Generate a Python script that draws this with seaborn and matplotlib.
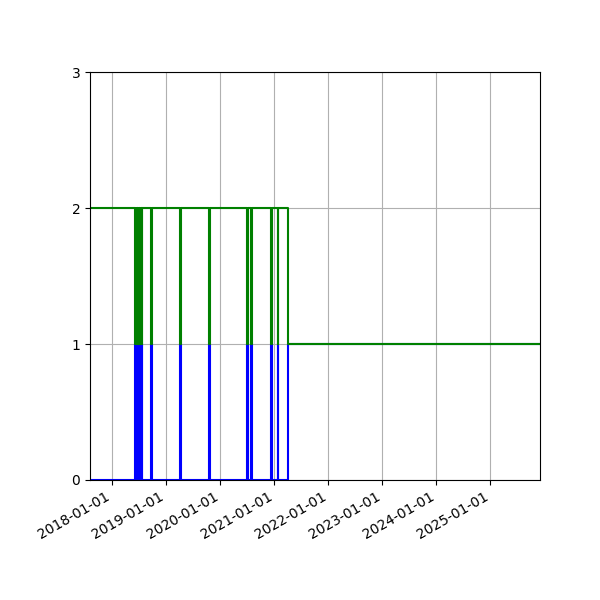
import matplotlib
matplotlib.use("Agg")
import matplotlib.pyplot as plt
import matplotlib.dates as mdates
import seaborn as sns
import pandas as pd

# change points of the two step series
change_dates = [
    "2017-08-03",
    "2018-06-02", "2018-06-08", "2018-06-13", "2018-06-20", "2018-06-26",
    "2018-07-03", "2018-07-09", "2018-07-15", "2018-07-19", "2018-07-24",
    "2018-09-22", "2018-09-28",
    "2019-04-06", "2019-04-12",
    "2019-10-15", "2019-10-21",
    "2020-07-02", "2020-07-08", "2020-07-26", "2020-08-01",
    "2020-12-07", "2020-12-15",
    "2021-01-22", "2021-01-28",
    "2021-04-02",
    "2025-12-02",
]
blue_values = [0,
               1, 0, 1, 0, 1, 0, 1, 0, 1, 0,
               1, 0,
               1, 0,
               1, 0,
               1, 0, 1, 0,
               1, 0,
               1, 0,
               1,
               1]
green_values = [2,
                1, 2, 1, 2, 1, 2, 1, 2, 1, 2,
                1, 2,
                1, 2,
                1, 2,
                1, 2, 1, 2,
                1, 2,
                1, 2,
                1,
                1]

dates = pd.to_datetime(change_dates)
df = pd.DataFrame({"date": dates, "blue": blue_values, "green": green_values})

fig, ax = plt.subplots(figsize=(6, 6), dpi=100)
fig.subplots_adjust(left=0.15, right=0.9, top=0.88, bottom=0.2)

sns.lineplot(data=df, x="date", y="blue", ax=ax, color="blue",
             drawstyle="steps-post", linewidth=1.5)
sns.lineplot(data=df, x="date", y="green", ax=ax, color="green",
             drawstyle="steps-post", linewidth=1.5)

ax.set_xlim(dates[0], dates[-1])
ax.set_ylim(0, 3)
ax.set_yticks([0, 1, 2, 3])
ax.xaxis.set_major_locator(mdates.YearLocator())
ax.xaxis.set_major_formatter(mdates.DateFormatter("%Y-%m-%d"))
ax.grid(True)
ax.set_xlabel("")
ax.set_ylabel("")
for lab in ax.get_xticklabels():
    lab.set_rotation(30)
    lab.set_ha("right")

fig.savefig("out.png", dpi=100)
